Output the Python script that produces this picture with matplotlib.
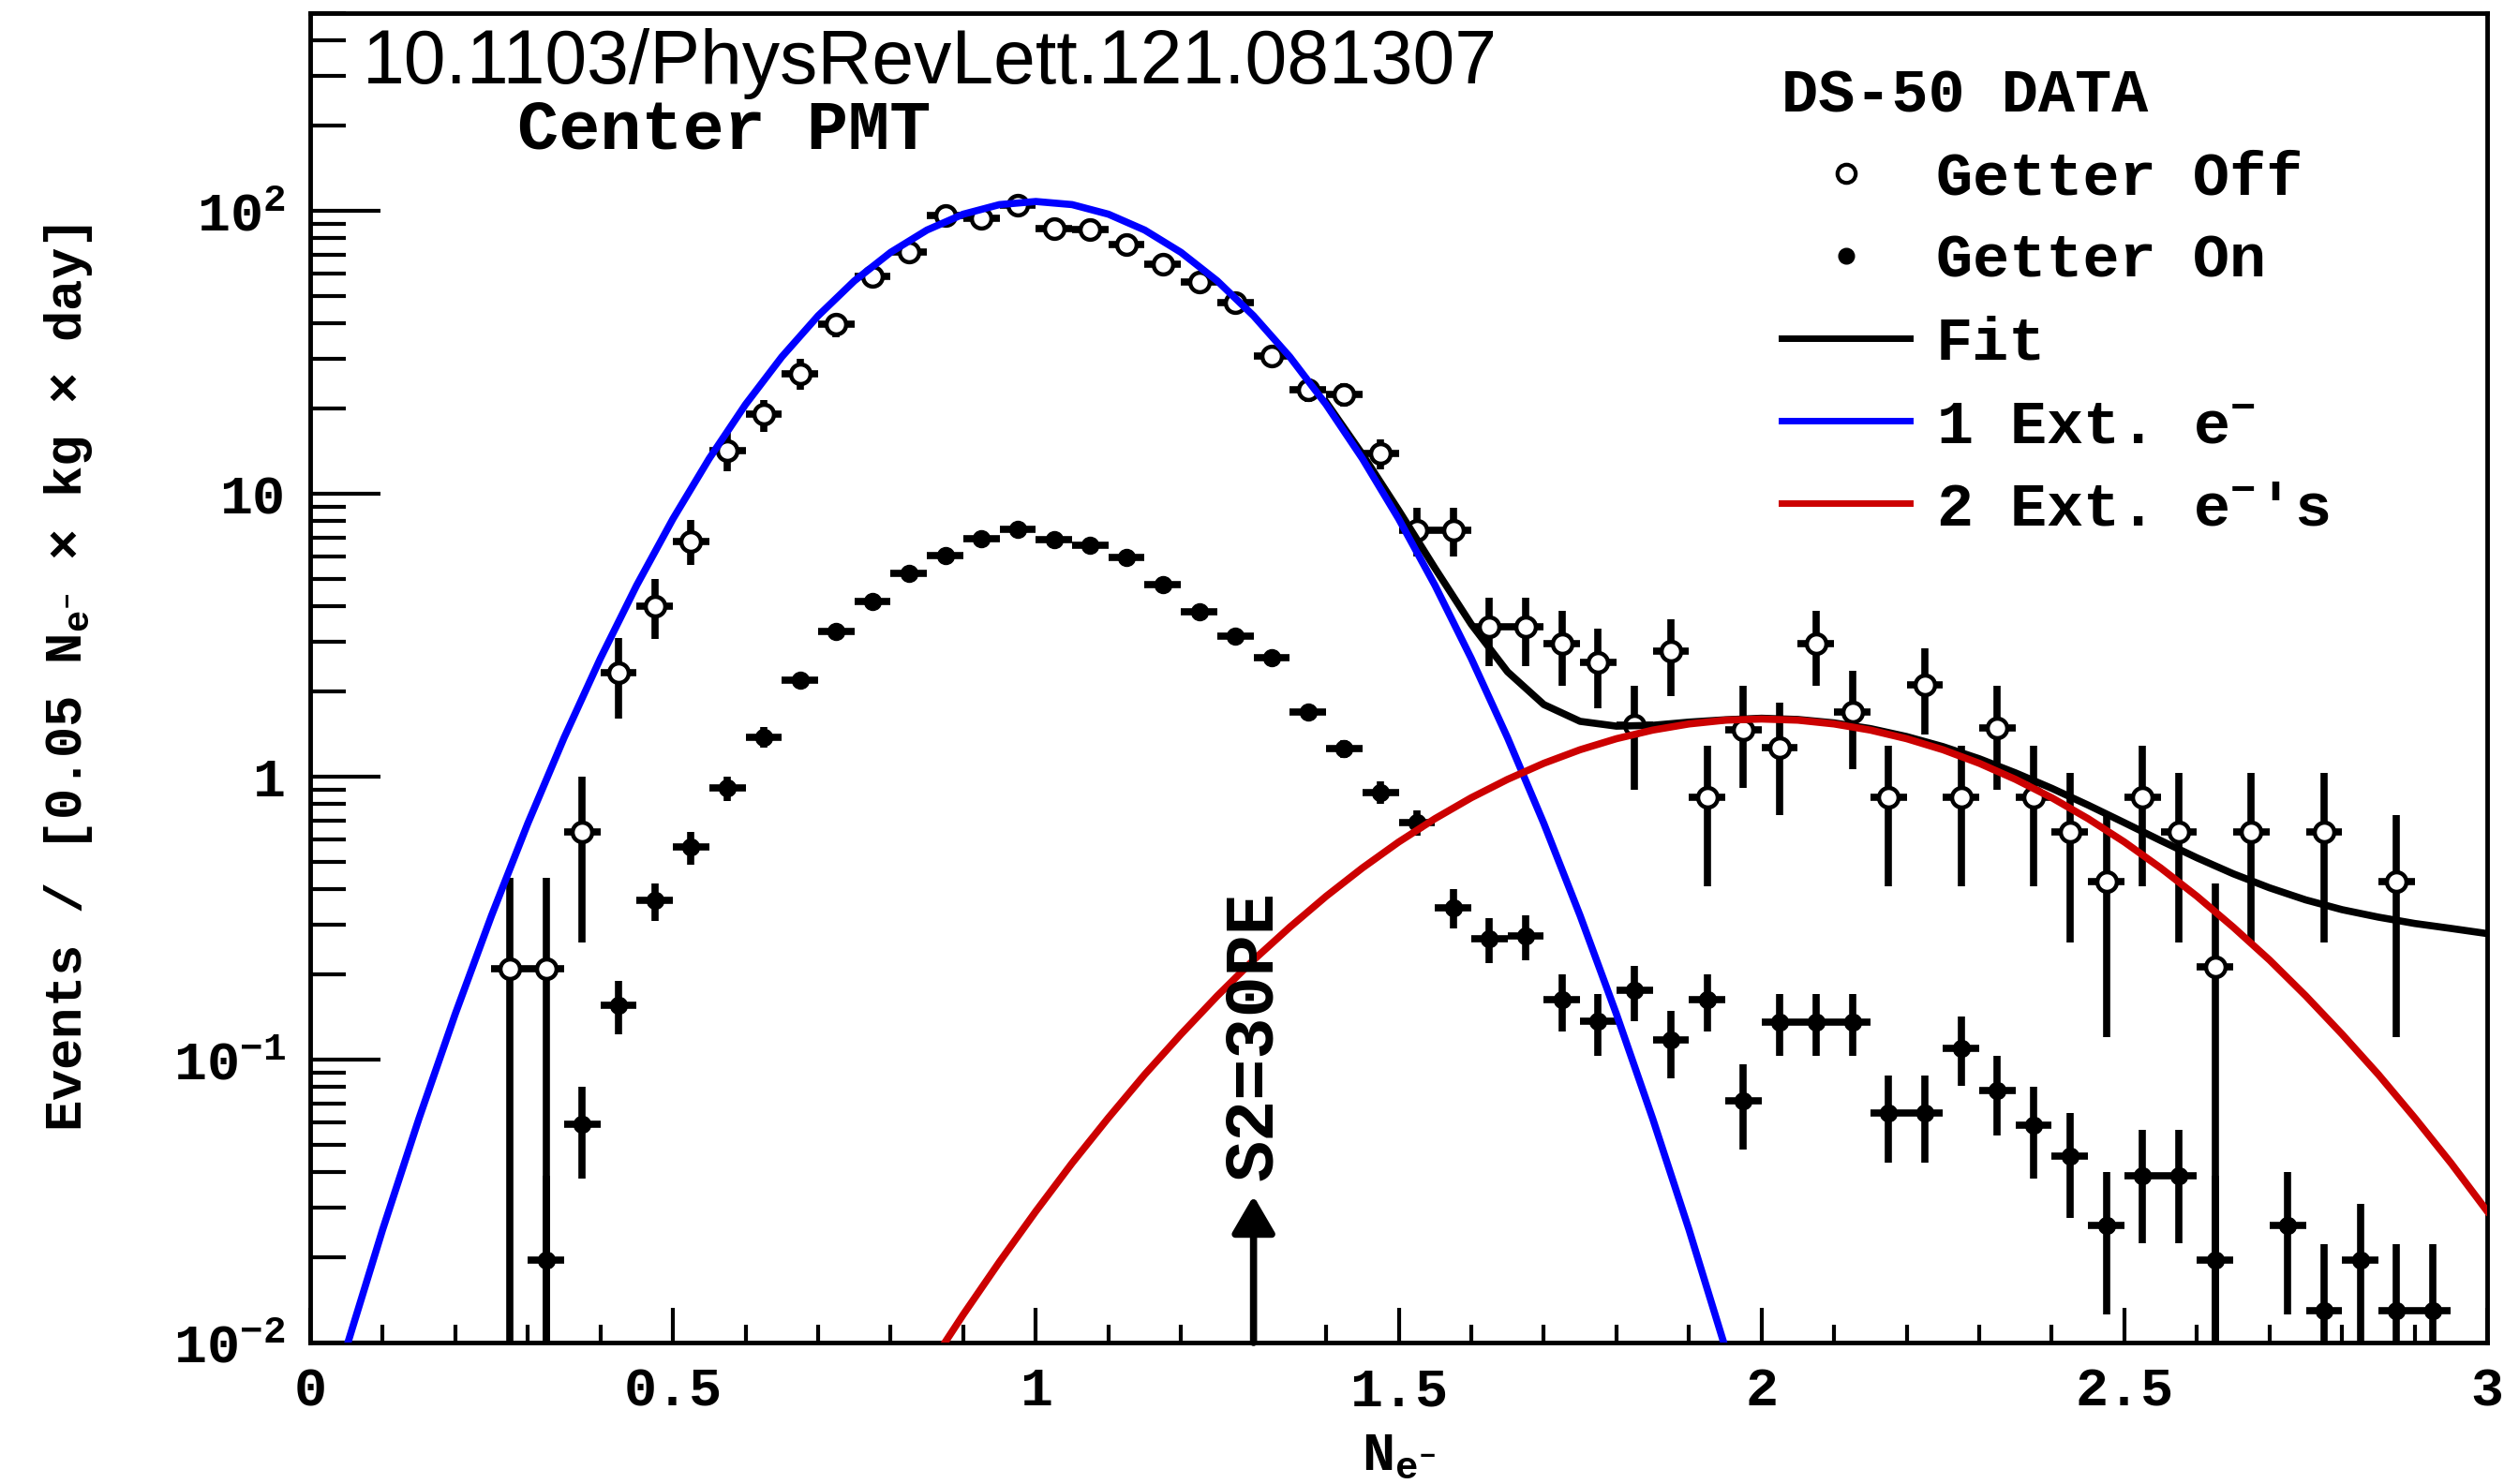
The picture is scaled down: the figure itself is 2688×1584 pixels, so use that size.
import matplotlib
matplotlib.use("Agg")
import matplotlib.pyplot as plt
from matplotlib.lines import Line2D
from matplotlib.ticker import FixedLocator, FixedFormatter, LogLocator, MultipleLocator, NullFormatter

# ---- data ----
# Getter Off (open circles): bin centres, values, error-bar low / high ends
off_x = [0.275, 0.325, 0.375, 0.425, 0.475, 0.525, 0.575, 0.625, 0.675, 0.725,
         0.775, 0.825, 0.875, 0.925, 0.975, 1.025, 1.075, 1.125, 1.175, 1.225,
         1.275, 1.325, 1.375, 1.425, 1.475, 1.525, 1.575, 1.625, 1.675, 1.725,
         1.775, 1.825, 1.875, 1.925, 1.975, 2.025, 2.075, 2.125, 2.175, 2.225,
         2.275, 2.325, 2.375, 2.425, 2.475, 2.525, 2.575, 2.625, 2.675, 2.775,
         2.875]
off_y = [0.21, 0.21, 0.64, 2.34, 4.0, 6.8, 14.2, 19.1, 26.6, 39.8,
         58.5, 71.6, 96.7, 94.0, 105.0, 86.7, 85.8, 76.0, 64.9, 56.0,
         47.4, 30.8, 23.4, 22.5, 13.9, 7.43, 7.43, 3.4, 3.4, 2.96,
         2.53, 1.52, 2.77, 0.845, 1.47, 1.27, 2.96, 1.69, 0.845, 2.12,
         0.845, 1.49, 0.845, 0.637, 0.425, 0.845, 0.637, 0.213, 0.637, 0.637,
         0.425]
off_lo = [0.0, 0.0, 0.26, 1.6, 3.06, 5.6, 12.0, 16.5, 23.4, 35.9,
          55.0, 68.0, 92.0, 90.0, 101.0, 83.0, 82.0, 72.5, 61.7, 53.0,
          44.5, 28.4, 21.2, 20.3, 12.2, 6.0, 6.0, 2.47, 2.47, 2.1,
          1.75, 0.9, 1.93, 0.41, 0.91, 0.73, 2.1, 1.06, 0.41, 1.41,
          0.41, 0.9, 0.41, 0.26, 0.12, 0.41, 0.26, 0.0, 0.26, 0.26,
          0.12]
off_hi = [0.44, 0.44, 1.0, 3.1, 5.0, 8.1, 16.4, 21.5, 29.9, 43.4,
          62.0, 75.0, 101.0, 98.0, 109.0, 90.0, 89.5, 79.5, 68.0, 59.0,
          50.4, 33.2, 25.6, 24.7, 15.6, 8.9, 8.9, 4.3, 4.3, 3.85,
          3.35, 2.09, 3.6, 1.29, 2.09, 1.83, 3.85, 2.36, 1.29, 2.85,
          1.29, 2.09, 1.29, 1.03, 0.73, 1.29, 1.03, 0.42, 1.03, 1.03,
          0.73]

# Getter On (filled circles)
on_x = [0.325, 0.375, 0.425, 0.475, 0.525, 0.575, 0.625, 0.675, 0.725, 0.775,
        0.825, 0.875, 0.925, 0.975, 1.025, 1.075, 1.125, 1.175, 1.225, 1.275,
        1.325, 1.375, 1.425, 1.475, 1.525, 1.575, 1.625, 1.675, 1.725, 1.775,
        1.825, 1.875, 1.925, 1.975, 2.025, 2.075, 2.125, 2.175, 2.225, 2.275,
        2.325, 2.375, 2.425, 2.475, 2.525, 2.575, 2.625, 2.725, 2.775, 2.825,
        2.875, 2.925]
on_y = [0.0196, 0.059, 0.156, 0.365, 0.565, 0.91, 1.38, 2.2, 3.26, 4.15,
        5.22, 6.04, 6.93, 7.52, 6.87, 6.56, 5.98, 4.76, 3.84, 3.14,
        2.63, 1.69, 1.26, 0.88, 0.69, 0.345, 0.268, 0.274, 0.163, 0.137,
        0.176, 0.117, 0.163, 0.0714, 0.136, 0.136, 0.136, 0.0646, 0.0646, 0.110,
        0.0776, 0.0585, 0.0455, 0.026, 0.039, 0.039, 0.0195, 0.026, 0.013, 0.0195,
        0.013, 0.013]
on_lo = [0.0, 0.038, 0.123, 0.31, 0.49, 0.82, 1.27, 2.06, 3.1, 3.97,
         5.0, 5.84, 6.72, 7.3, 6.66, 6.35, 5.78, 4.58, 3.68, 3.0,
         2.5, 1.59, 1.17, 0.80, 0.62, 0.29, 0.219, 0.225, 0.126, 0.103,
         0.137, 0.086, 0.126, 0.048, 0.103, 0.103, 0.103, 0.0433, 0.0433, 0.081,
         0.054, 0.038, 0.0275, 0.0126, 0.0224, 0.0224, 0.0, 0.0126, 0.0038, 0.0081,
         0.0038, 0.0038]
on_hi = [0.039, 0.08, 0.19, 0.42, 0.64, 1.0, 1.5, 2.34, 3.43, 4.33,
         5.43, 6.24, 7.14, 7.74, 7.08, 6.77, 6.18, 4.94, 4.0, 3.28,
         2.76, 1.79, 1.35, 0.96, 0.76, 0.40, 0.316, 0.323, 0.201, 0.171,
         0.215, 0.149, 0.201, 0.096, 0.171, 0.171, 0.171, 0.088, 0.088, 0.142,
         0.103, 0.080, 0.065, 0.040, 0.0566, 0.0566, 0.039, 0.040, 0.0222, 0.031,
         0.0222, 0.0222]

# 1 extracted electron component (blue)
one_x = [0.05, 0.10, 0.15, 0.20, 0.25, 0.30, 0.35, 0.40, 0.45, 0.50,
         0.55, 0.60, 0.65, 0.70, 0.75, 0.80, 0.85, 0.90, 0.95, 1.00,
         1.05, 1.10, 1.15, 1.20, 1.25, 1.30, 1.35, 1.40, 1.45, 1.50,
         1.55, 1.60, 1.65, 1.70, 1.75, 1.80, 1.85, 1.90, 1.95]
one_y = [0.0096, 0.0251, 0.0619, 0.145, 0.323, 0.684, 1.374, 2.62, 4.75, 8.16,
         13.33, 20.7, 30.5, 42.6, 56.6, 71.4, 85.6, 97.4, 105.3, 108.0,
         105.3, 97.4, 85.6, 71.4, 56.6, 42.6, 30.5, 20.7, 13.33, 8.16,
         4.75, 2.62, 1.374, 0.684, 0.323, 0.145, 0.0619, 0.0251, 0.0096]

# 2 extracted electrons component (red)
two_x = [0.85, 0.90, 0.95, 1.00, 1.05, 1.10, 1.15, 1.20, 1.25, 1.30,
         1.35, 1.40, 1.45, 1.50, 1.55, 1.60, 1.65, 1.70, 1.75, 1.80,
         1.85, 1.90, 1.95, 2.00, 2.05, 2.10, 2.15, 2.20, 2.25, 2.30,
         2.35, 2.40, 2.45, 2.50, 2.55, 2.60, 2.65, 2.70, 2.75, 2.80,
         2.85, 2.90, 2.95, 3.00]
two_y = [0.0080, 0.01256, 0.0193, 0.0291, 0.0431, 0.0623, 0.0886, 0.123, 0.168, 0.225,
         0.294, 0.378, 0.476, 0.588, 0.711, 0.843, 0.979, 1.116, 1.246, 1.363,
         1.462, 1.537, 1.585, 1.60, 1.585, 1.537, 1.462, 1.363, 1.246, 1.116,
         0.979, 0.843, 0.711, 0.588, 0.476, 0.378, 0.294, 0.225, 0.168, 0.123,
         0.0886, 0.0623, 0.0431, 0.0291]

# total fit (black), visible part
fit_x = [1.40, 1.45, 1.50, 1.55, 1.60, 1.65, 1.70, 1.75, 1.80, 1.85,
         1.90, 1.95, 2.00, 2.05, 2.10, 2.15, 2.20, 2.25, 2.30, 2.35,
         2.40, 2.45, 2.50, 2.55, 2.60, 2.65, 2.70, 2.75, 2.80, 2.85,
         2.90, 2.95, 3.00]
fit_y = [21.1, 13.8, 8.75, 5.46, 3.46, 2.35, 1.80, 1.57, 1.51, 1.52,
         1.56, 1.59, 1.61, 1.594, 1.55, 1.48, 1.387, 1.278, 1.158, 1.032,
         0.910, 0.794, 0.688, 0.595, 0.517, 0.454, 0.405, 0.367, 0.339, 0.319,
         0.303, 0.291, 0.279]

s2_x = 1.3          # S2 = 30 PE threshold marker
s2_arrow = (0.01, 0.033)
s2_text_y = 0.0374

xticks = [0, 0.5, 1, 1.5, 2, 2.5, 3]
xticklabels = ["0", "0.5", "1", "1.5", "2", "2.5", "3"]
yticks = [0.01, 0.1, 1, 10, 100]
yticklabels = [r"10$^{-2}$", r"10$^{-1}$", "1", "10", r"10$^{2}$"]

# ---- style ----
plt.rcParams["font.family"] = ["Liberation Mono", "DejaVu Sans"]
plt.rcParams["font.weight"] = "bold"
plt.rcParams["mathtext.fontset"] = "custom"
plt.rcParams["mathtext.rm"] = "Liberation Mono:bold"
plt.rcParams["mathtext.it"] = "Liberation Mono:bold"
plt.rcParams["mathtext.bf"] = "Liberation Mono:bold"
plt.rcParams["axes.linewidth"] = 3.5

BLUE = "#0000ff"
RED = "#cc0000"

fig = plt.figure(figsize=(26.88, 15.84), dpi=100)
ax = fig.add_axes([0.1231, 0.0953, 0.8643, 0.8958])

ax.set_yscale("log")
ax.set_xlim(0, 3)
ax.set_ylim(0.01, 500)

# data points
off_err = [[v - l for v, l in zip(off_y, off_lo)], [h - v for v, h in zip(off_y, off_hi)]]
on_err = [[v - l for v, l in zip(on_y, on_lo)], [h - v for v, h in zip(on_y, on_hi)]]
ax.errorbar(on_x, on_y, yerr=on_err, xerr=0.025, fmt="o", color="k", ms=13,
            elinewidth=5.5, capsize=0, zorder=3)
ax.errorbar(off_x, off_y, yerr=off_err, xerr=0.025, fmt="o", color="k", mfc="white",
            mec="k", mew=3.2, ms=15, elinewidth=5.5, capsize=0, zorder=3)

# fit curves
ax.plot(fit_x, fit_y, color="k", lw=5.5, zorder=4)
ax.plot(one_x, one_y, color=BLUE, lw=5.5, zorder=5)
ax.plot(two_x, two_y, color=RED, lw=5.5, zorder=6)

# S2 threshold arrow
ax.annotate("", xy=(s2_x, s2_arrow[1]), xytext=(s2_x, s2_arrow[0]),
            arrowprops=dict(arrowstyle="-|>,head_width=1.4,head_length=2.4",
                            lw=5.5, color="k", shrinkA=0, shrinkB=0), zorder=7)
ax.text(s2_x, s2_text_y, "S2=30PE", rotation=90, ha="center", va="bottom",
        fontsize=53, fontweight="bold", zorder=7)

# ticks
ax.xaxis.set_major_locator(FixedLocator(xticks))
ax.xaxis.set_major_formatter(FixedFormatter(xticklabels))
ax.xaxis.set_minor_locator(MultipleLocator(0.1))
ax.yaxis.set_major_locator(FixedLocator(yticks))
ax.yaxis.set_major_formatter(FixedFormatter(yticklabels))
ax.yaxis.set_minor_locator(LogLocator(base=10, subs=range(2, 10), numticks=20))
ax.yaxis.set_minor_formatter(NullFormatter())
ax.tick_params(axis="x", which="major", direction="in", length=27, width=3,
               top=False, labelsize=42, pad=18)
ax.tick_params(axis="x", which="minor", direction="in", length=14, width=3, top=False)
ax.tick_params(axis="y", which="major", direction="in", length=54, width=3,
               right=False, labelsize=42, pad=19)
ax.tick_params(axis="y", which="minor", direction="in", length=27, width=3, right=False)

ax.set_xlabel(r"N$_{e^{-}}$", fontsize=42, fontweight="bold")
ax.xaxis.set_label_coords(0.5, -0.066)
ax.set_ylabel(r"Events / [0.05 N$_{e^{-}}$ × kg × day]", fontsize=40, fontweight="bold")
ax.yaxis.set_label_coords(-0.099, 0.5)

# annotations
ax.text(0.024, 0.947, "10.1103/PhysRevLett.121.081307", transform=ax.transAxes,
        fontsize=58, fontweight="normal", family=["Liberation Sans", "DejaVu Sans"],
        va="baseline", ha="left")
ax.text(0.095, 0.8985, "Center PMT", transform=ax.transAxes, fontsize=53,
        fontweight="bold", va="baseline", ha="left")

# legend
handles = [
    Line2D([], [], ls="none", marker="o", mfc="white", mec="k", mew=3, ms=14),
    Line2D([], [], ls="none", marker="o", color="k", ms=12),
    Line2D([], [], color="k", lw=5),
    Line2D([], [], color=BLUE, lw=5),
    Line2D([], [], color=RED, lw=5),
]
labels = ["Getter Off", "Getter On", "Fit", r"1 Ext. e$^{-}$", r"2 Ext. e$^{-}$'s"]
leg = ax.legend(handles, labels, title="DS-50 DATA", loc="upper left",
                bbox_to_anchor=(0.676, 0.959), frameon=False, fontsize=47,
                title_fontsize=47, handlelength=2.1, handletextpad=0.42,
                labelspacing=0.43, alignment="left", borderaxespad=0, borderpad=0)
leg.get_title().set_fontweight("bold")

fig.savefig("out.png", dpi=100)
